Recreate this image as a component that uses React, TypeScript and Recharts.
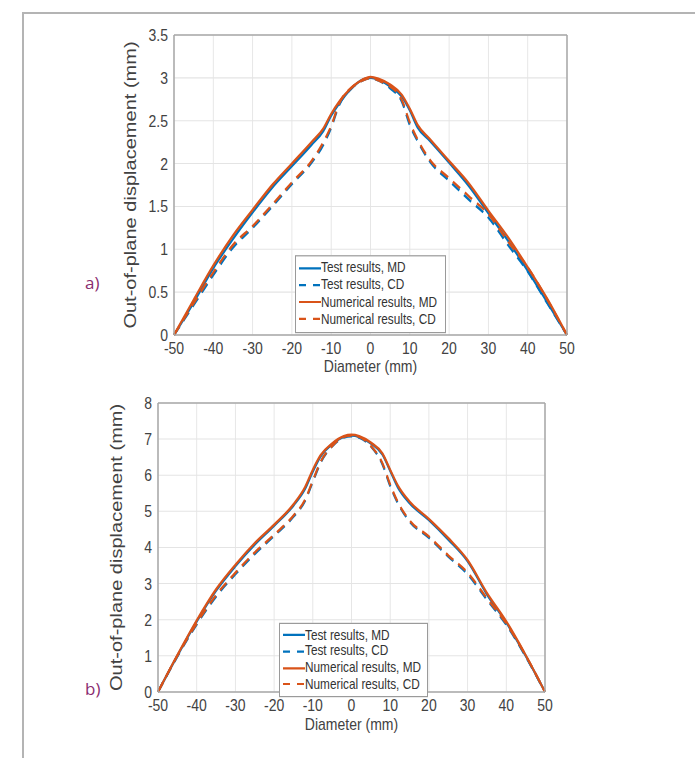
import { LineChart, Line, XAxis, YAxis, CartesianGrid, Legend } from 'recharts';

// diameter positions (mm), shared by every curve
const diameter = [-50, -45, -40, -35, -30, -25, -20, -15, -12, -10, -8, -5, -2, 0, 2, 5, 8, 10, 12, 15, 20, 25, 30, 35, 40, 45, 50];

// a) out-of-plane displacement (mm)
const testMdA = [0, 0.38, 0.78, 1.12, 1.43, 1.72, 1.97, 2.22, 2.38, 2.56, 2.7, 2.87, 2.98, 3.0, 2.98, 2.9, 2.78, 2.62, 2.42, 2.27, 2.01, 1.74, 1.42, 1.1, 0.75, 0.38, 0];
const testCdA = [0, 0.35, 0.7, 1.02, 1.25, 1.5, 1.76, 2.01, 2.22, 2.42, 2.68, 2.87, 2.97, 3.0, 2.97, 2.88, 2.72, 2.45, 2.26, 2.03, 1.8, 1.58, 1.37, 1.05, 0.74, 0.37, 0];
const numMdA = [0, 0.41, 0.81, 1.16, 1.46, 1.75, 2.0, 2.25, 2.41, 2.58, 2.72, 2.88, 2.98, 3.01, 2.99, 2.92, 2.8, 2.64, 2.45, 2.29, 2.03, 1.77, 1.45, 1.14, 0.79, 0.42, 0];
const numCdA = [0, 0.37, 0.73, 1.05, 1.27, 1.52, 1.78, 2.03, 2.25, 2.44, 2.7, 2.88, 2.97, 3.0, 2.97, 2.9, 2.74, 2.48, 2.28, 2.05, 1.83, 1.62, 1.41, 1.09, 0.79, 0.41, 0];

// b) out-of-plane displacement (mm)
const testMdB = [0, 1.0, 1.95, 2.8, 3.48, 4.08, 4.6, 5.16, 5.62, 6.1, 6.52, 6.86, 7.06, 7.1, 7.06, 6.88, 6.57, 6.12, 5.66, 5.23, 4.76, 4.22, 3.62, 2.7, 1.92, 1.0, 0];
const testCdB = [0, 0.98, 1.87, 2.64, 3.26, 3.82, 4.32, 4.85, 5.29, 5.82, 6.34, 6.8, 7.04, 7.08, 7.04, 6.8, 6.3, 5.7, 5.22, 4.72, 4.27, 3.75, 3.26, 2.55, 1.86, 0.98, 0];
const numMdB = [0, 1.02, 1.98, 2.84, 3.52, 4.12, 4.63, 5.19, 5.67, 6.15, 6.55, 6.88, 7.08, 7.12, 7.08, 6.9, 6.6, 6.15, 5.71, 5.27, 4.79, 4.26, 3.65, 2.74, 1.95, 1.02, 0];
const numCdB = [0, 1.0, 1.9, 2.68, 3.3, 3.86, 4.35, 4.88, 5.32, 5.85, 6.37, 6.81, 7.06, 7.1, 7.06, 6.81, 6.33, 5.74, 5.25, 4.75, 4.3, 3.78, 3.3, 2.59, 1.89, 1.01, 0];

const xTicks = [-50, -40, -30, -20, -10, 0, 10, 20, 30, 40, 50];
const yTicksA = [0, 0.5, 1, 1.5, 2, 2.5, 3, 3.5];
const yTicksB = [0, 1, 2, 3, 4, 5, 6, 7, 8];

const seriesNames = ['Test results, MD', 'Test results, CD', 'Numerical results, MD', 'Numerical results, CD'];

const BLUE = '#0072BD';
const ORANGE = '#D95319';
const DASH = '9 6';
const FONT = '"Liberation Sans", Arial, sans-serif';
// the source figure is stretched a little vertically
const SY = 1.2;

const series = [
  { key: 'tmd', name: seriesNames[0], color: BLUE, dash: undefined },
  { key: 'tcd', name: seriesNames[1], color: BLUE, dash: DASH },
  { key: 'nmd', name: seriesNames[2], color: ORANGE, dash: undefined },
  { key: 'ncd', name: seriesNames[3], color: ORANGE, dash: DASH },
];

const buildRows = (tmd: number[], tcd: number[], nmd: number[], ncd: number[]) =>
  diameter.map((d, i) => ({ d, tmd: tmd[i], tcd: tcd[i], nmd: nmd[i], ncd: ncd[i] }));

const rowsA = buildRows(testMdA, testCdA, numMdA, numCdA);
const rowsB = buildRows(testMdB, testCdB, numMdB, numCdB);

const makeLegend = (w: number, h: number, rowH: number, padTop: number) => () => (
  <div
    style={{
      width: w,
      height: h,
      boxSizing: 'border-box',
      border: '1px solid #9a9a9a',
      background: '#fff',
      padding: `${padTop}px 0 0 3px`,
      fontFamily: FONT,
      fontSize: 11.8,
      lineHeight: '13px',
      color: '#333',
    }}
  >
    {series.map((s) => (
      <div key={s.key} style={{ display: 'flex', alignItems: 'center', height: rowH }}>
        <svg width={22} height={4} style={{ flex: 'none' }}>
          <line x1={0} y1={2} x2={22} y2={2} stroke={s.color} strokeWidth={1.8} strokeDasharray={s.dash ? '7 7' : undefined} />
        </svg>
        <span style={{ whiteSpace: 'nowrap' }}>{s.name}</span>
      </div>
    ))}
  </div>
);

const axisStroke = '#a8a8a8';
const textFill = '#424242';
const tickStyle = { fill: textFill, fontSize: 14, fontFamily: FONT };

type PanelProps = {
  rows: any[];
  yTicks: number[];
  yMax: number;
  left: number;
  top: number;
  height: number;
  marginTop: number;
  marginLeft: number;
  marginRight: number;
  xAxisH: number;
  labelOffset: number;
  legendLeft: number;
  legendTop: number;
  legendW: number;
  legendH: number;
  legendRow: number;
  legendPad: number;
};

function Panel(p: PanelProps) {
  return (
    <div style={{ position: 'absolute', left: p.left, top: p.top, transform: `scaleY(${SY})`, transformOrigin: '0 0' }}>
      <LineChart
        width={560}
        height={p.height}
        data={p.rows}
        margin={{ top: p.marginTop, right: p.marginRight, bottom: 4, left: p.marginLeft }}
      >
        <CartesianGrid stroke="#e4e4e4" strokeWidth={0.9} />
        <XAxis
          dataKey="d"
          type="number"
          domain={[-50, 50]}
          ticks={xTicks}
          height={p.xAxisH}
          tickLine={false}
          tickSize={0}
          tickMargin={6}
          stroke={axisStroke}
          strokeWidth={1.2}
          tick={tickStyle}
          label={{ value: 'Diameter (mm)', position: 'insideBottom', offset: 1, style: { fill: textFill, fontSize: 14, fontFamily: FONT } }}
        />
        <XAxis xAxisId="top" orientation="top" mirror dataKey="d" type="number" domain={[-50, 50]} ticks={xTicks} tick={false} tickSize={4} stroke={axisStroke} strokeWidth={1.2} />
        <XAxis xAxisId="bin" orientation="bottom" mirror dataKey="d" type="number" domain={[-50, 50]} ticks={xTicks} tick={false} tickSize={4} axisLine={false} stroke={axisStroke} />
        <YAxis
          type="number"
          domain={[0, p.yMax]}
          ticks={p.yTicks}
          width={70}
          tickLine={false}
          tickSize={0}
          tickMargin={6}
          stroke={axisStroke}
          strokeWidth={1.5}
          tick={tickStyle}
          label={{
            value: 'Out-of-plane displacement (mm)',
            angle: -90,
            position: 'insideLeft',
            offset: p.labelOffset,
            style: { textAnchor: 'middle', fill: textFill, fontSize: 16.7, fontFamily: FONT },
          }}
        />
        <YAxis yAxisId="right" orientation="right" mirror type="number" domain={[0, p.yMax]} ticks={p.yTicks} tick={false} tickSize={5} stroke={axisStroke} strokeWidth={1.5} />
        <YAxis yAxisId="lin" orientation="left" mirror type="number" domain={[0, p.yMax]} ticks={p.yTicks} tick={false} tickSize={5} axisLine={false} stroke={axisStroke} />
        {series.map((s) => (
          <Line
            key={s.key}
            dataKey={s.key}
            name={s.name}
            type="monotone"
            stroke={s.color}
            strokeWidth={2.1}
            strokeDasharray={s.dash}
            dot={false}
            isAnimationActive={false}
          />
        ))}
        <Legend
          layout="vertical"
          align="center"
          verticalAlign="middle"
          content={makeLegend(p.legendW, p.legendH, p.legendRow, p.legendPad)}
          wrapperStyle={{ left: p.legendLeft, top: p.legendTop, width: p.legendW, height: p.legendH }}
        />
      </LineChart>
    </div>
  );
}

const panelLabel = (text: string, top: number) => (
  <div style={{ position: 'absolute', left: 85, top, fontFamily: '"Open Sans", sans-serif', fontSize: 17, color: '#8a2c6f' }}>
    {text}
  </div>
);

export default function App() {
  return (
    <div style={{ position: 'absolute', left: 0, top: 0, width: 695, height: 758, background: '#fff', overflow: 'hidden' }}>
      <div style={{ position: 'absolute', left: 22, top: 12, width: 673, height: 0, borderTop: '2px solid #b4b4b4' }} />
      <div style={{ position: 'absolute', left: 22, top: 12, width: 0, height: 746, borderLeft: '2px solid #b4b4b4' }} />
      {panelLabel('a)', 271)}
      {panelLabel('b)', 677)}
      <Panel
        rows={rowsA}
        yTicks={yTicksA}
        yMax={3.5}
        left={60}
        top={20}
        height={298.5}
        marginTop={12.5}
        marginLeft={44}
        marginRight={53}
        xAxisH={32}
        labelOffset={26}
        legendLeft={235}
        legendTop={195.8}
        legendW={151}
        legendH={65}
        legendRow={14.2}
        legendPad={2.9}
      />
      <Panel
        rows={rowsB}
        yTicks={yTicksB}
        yMax={8}
        left={45}
        top={390}
        height={288}
        marginTop={10.8}
        marginLeft={43}
        marginRight={60}
        xAxisH={32.4}
        labelOffset={28}
        legendLeft={234}
        legendTop={194.2}
        legendW={149}
        legendH={61.7}
        legendRow={13.75}
        legendPad={2}
      />
    </div>
  );
}
